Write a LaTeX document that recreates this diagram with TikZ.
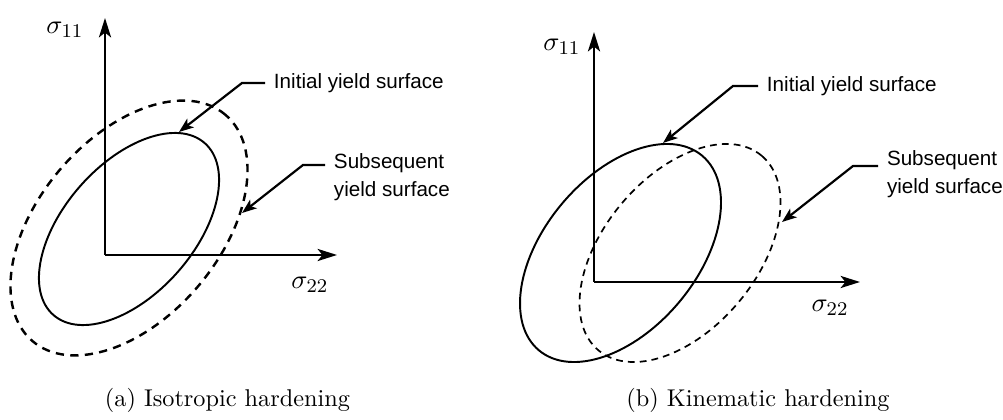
\documentclass[tikz,border=0pt]{standalone}
\usepackage{fontspec}
\newfontfamily\calloutfont{Liberation Sans}
\usetikzlibrary{arrows.meta,calc}
\tikzset{
  axis/.style={line width=1pt,-{Stealth[length=8pt,width=5pt,inset=2pt]}},
  callout/.style={line width=0.9pt,-{Stealth[length=6pt,width=4.5pt,inset=1.5pt]}},
  surf/.style={line width=0.8pt},
  axlabel/.style={font=\fontsize{11}{13}\selectfont},
  note/.style={font=\calloutfont\fontsize{8.5}{11.5}\selectfont,align=left,anchor=west,inner xsep=3.5pt},
}
\begin{document}
\begin{tikzpicture}[x=0.01448cm,y=0.01448cm]
\useasboundingbox (0,0) rectangle (1003,420);
% (a) isotropic
\coordinate (oa) at (105,165);
\coordinate (ya) at (105,402);
\coordinate (xa) at (337,165);
\coordinate (ca) at (129,191);
\coordinate (da) at (129,192);
\draw[surf,rotate around={48.6:(ca)}] (ca) ellipse [x radius=114.5,y radius=65];
\draw[surf,line width=1pt,dash pattern=on 3.4pt off 2.6pt,rotate around={49.5:(da)}]
  (da) ellipse [x radius=148.7,y radius=90.4];
\draw[axis] (oa) -- (ya);
\draw[axis] (oa) -- (xa);
\node[axlabel] (s11a) at (65,390) {$\sigma_{11}$};
\node[axlabel] (s22a) at (310,135) {$\sigma_{22}$};
\node[note] (inia) at (265,337) {Initial yield surface};
\node[note] (suba) at (325,242.5) {Subsequent\\yield surface};
\coordinate (tipia) at (179,288);
\coordinate (tipsa) at (242,207);
\draw[callout] (inia.west) -- ++(-23,0) -- (tipia);
\draw[callout] ($(suba.west)+(0,12.5)$) -- ++(-22,0) -- (tipsa);
\node (capa) at (227.5,20) {(a) Isotropic hardening};
% (b) kinematic
\coordinate (ob) at (594,138);
\coordinate (yb) at (594,388);
\coordinate (xb) at (860,138);
\coordinate (cb) at (620.5,167);
\coordinate (db) at (680,167);
\draw[surf,rotate around={50:(cb)}] (cb) ellipse [x radius=127,y radius=76.5];
\draw[surf,line width=0.7pt,dash pattern=on 2.8pt off 2.1pt,rotate around={50:(db)}]
  (db) ellipse [x radius=127,y radius=76.5];
\draw[axis] (ob) -- (yb);
\draw[axis] (ob) -- (xb);
\node[axlabel] (s11b) at (562,373) {$\sigma_{11}$};
\node[axlabel] (s22b) at (830,112) {$\sigma_{22}$};
\node[note] (inib) at (758,334) {Initial yield surface};
\node[note] (subb) at (878,245.5) {Subsequent\\yield surface};
\coordinate (tipib) at (663,277);
\coordinate (tipsb) at (782,198);
\draw[callout] (inib.west) -- ++(-25,0) -- (tipib);
\draw[callout] ($(subb.west)+(0,8.5)$) -- ++(-25,0) -- (tipsb);
\node (capb) at (758,20) {(b) Kinematic hardening};
\end{tikzpicture}
\end{document}
